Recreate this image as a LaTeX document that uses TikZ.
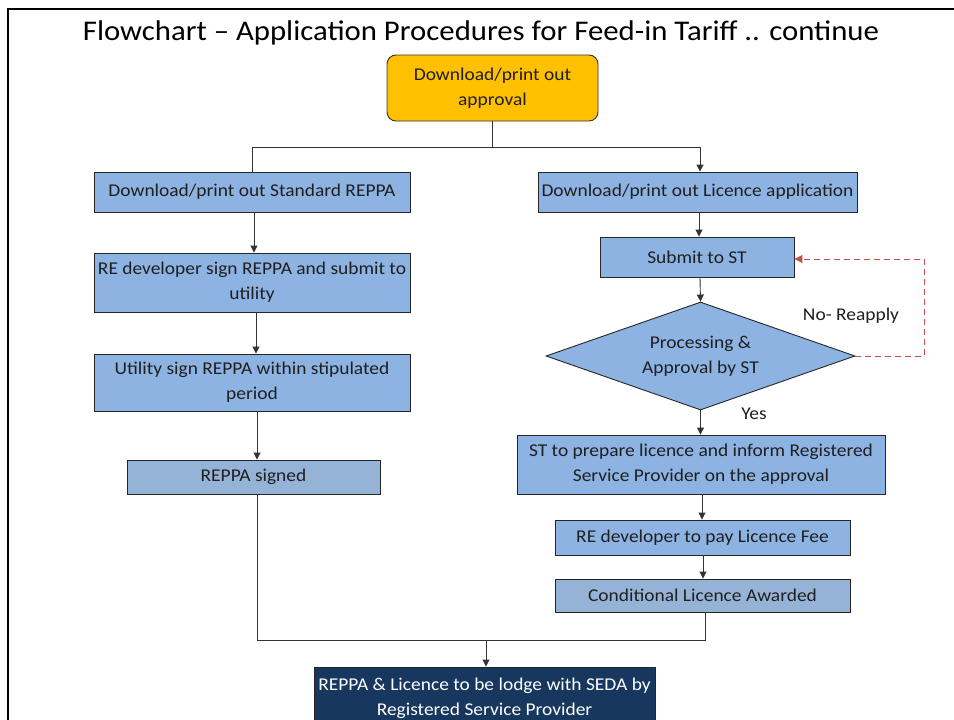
\documentclass[tikz,border=0pt]{standalone}
\usepackage{fontspec}
\setmainfont[FakeStretch=1.08]{Carlito}
\usetikzlibrary{shapes.geometric,arrows.meta}
\definecolor{boxblue}{HTML}{8DB3E2}
\definecolor{boxgray}{HTML}{95B3D7}
\definecolor{gold}{HTML}{FFC000}
\definecolor{navy}{HTML}{17375E}
\definecolor{dashred}{HTML}{C0504D}
\definecolor{txt}{HTML}{1F1F1F}
\tikzset{
  proc/.style={draw=black!85, line width=0.9pt, fill=boxblue, text=txt, font=\fontsize{18}{25}\selectfont, align=center, inner sep=0pt},
  procg/.style={proc, fill=boxgray},
  conn/.style={draw=black!80, line width=0.9pt},
  arr/.style={conn, -{Triangle[length=7pt,width=7pt]}},
  lbl/.style={font=\fontsize{18}{20}\selectfont, text=txt, inner sep=0pt}
}
\begin{document}
\begin{tikzpicture}[x=1pt,y=-1pt]
\useasboundingbox (0,0) rectangle (954,720);
\fill[white] (0,0) rectangle (954,720);
% frame
\draw[line width=2.2pt, black] (8,725) -- (8,9) -- (960,9);
% title
\node[font=\fontsize{28.5}{30}\selectfont, inner sep=0pt] (title) at (481,33) {Flowchart -- Application Procedures for Feed-in Tariff .. continue};
% top box
\node[draw=black!80, line width=0.9pt, fill=gold, rounded corners=9pt, minimum width=211pt, minimum height=66pt, text=txt, font=\fontsize{18}{25}\selectfont, align=center, inner sep=0pt] (dl) at (492.5,88) {Download/print out\\approval};
% left column
\node[proc, minimum width=316pt, minimum height=40pt] (l1) at (252,192) {Download/print out Standard REPPA};
\node[proc, minimum width=316pt, minimum height=59pt] (l2) at (252,282.5) {RE developer sign REPPA and submit to\\utility};
\node[proc, minimum width=316pt, minimum height=57pt] (l3) at (252,382.5) {Utility sign REPPA within stipulated\\period};
\node[procg, minimum width=253pt, minimum height=34pt] (l4) at (253.5,477) {REPPA signed};
% right column
\node[proc, minimum width=319pt, minimum height=40pt] (r1) at (697.5,192) {Download/print out Licence application};
\node[proc, minimum width=194pt, minimum height=40pt] (r2) at (697,257) {Submit to ST};
\node[diamond, aspect=2.86, draw=black!85, line width=0.9pt, fill=boxblue, text=txt, font=\fontsize{18}{25}\selectfont, align=center, inner sep=0pt, minimum width=309pt, minimum height=108pt] (dm) at (700.5,356) {Processing \&\\Approval by ST};
\node[proc, minimum width=368pt, minimum height=59pt] (r3) at (701,464.5) {ST to prepare licence and inform Registered\\Service Provider on the approval};
\node[proc, minimum width=295pt, minimum height=35pt] (r4) at (702.5,537.5) {RE developer to pay Licence Fee};
\node[procg, minimum width=295pt, minimum height=33pt] (r5) at (702.5,595.5) {Conditional Licence Awarded};
% final box
\node[draw=black!85, line width=0.9pt, fill=navy, text=white, font=\fontsize{18}{25}\selectfont, align=center, inner sep=0pt, minimum width=341pt, minimum height=62pt] (fin) at (484.5,698) {REPPA \& Licence to be lodge with SEDA by\\Registered Service Provider};
% labels
\node[lbl] (no) at (851,316) {No- Reapply};
\node[lbl] (yes) at (754,414) {Yes};
% coordinates
\coordinate (sp) at (492.5,147);
\coordinate (spl) at (252,147);
\coordinate (spr) at (700,147);
\coordinate (jl) at (257,640);
\coordinate (jr) at (705,640);
\coordinate (jm) at (486,640);
\coordinate (d1) at (924,356);
\coordinate (d2) at (924,259);
% connectors
\draw[conn] (dl.south) -- (sp);
\draw[conn] (spl) -- (spr);
\draw[conn] (spl) -- (l1.north -| spl);
\draw[arr] (spr) -- (r1.north -| spr);
\draw[arr] (l1.south -| 254,0) -- (l2.north -| 254,0);
\draw[arr] (l2.south -| 256,0) -- (l3.north -| 256,0);
\draw[arr] (l3.south -| 257,0) -- (l4.north -| 257,0);
\draw[arr] (r1.south -| 699,0) -- (r2.north -| 699,0);
\draw[arr] (r2.south -| 700,0) -- (dm.north);
\draw[arr] (dm.south) -- (r3.north -| dm.south);
\draw[arr] (r3.south -| 702,0) -- (r4.north -| 702,0);
\draw[arr] (r4.south -| 703,0) -- (r5.north -| 703,0);
\draw[conn] (l4.south -| jl) -- (jl) -- (jr) -- (r5.south -| jr);
\draw[arr] (jm) -- (fin.north -| jm);
\draw[dashred, line width=1pt, dash pattern=on 6pt off 4pt, -{Triangle[length=8pt,width=8pt]}] (dm.east) -- (d1) -- (d2) -- (r2.east |- d2);
\end{tikzpicture}
\end{document}
